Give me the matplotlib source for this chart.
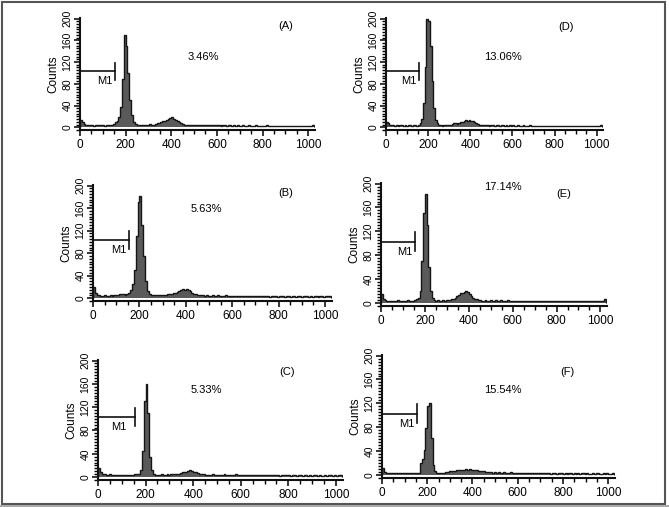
import matplotlib
matplotlib.use('Agg')
import matplotlib.pyplot as plt
from matplotlib.ticker import MultipleLocator
from matplotlib.patches import Rectangle
import numpy as np

plt.rcParams['font.family'] = ['Liberation Sans', 'DejaVu Sans']

# ---------------- data (8-channel bins, channels 0..1024) ----------------
panel_names = ['A', 'B', 'C', 'D', 'E', 'F']
percent_labels = ['3.46%', '5.63%', '5.33%', '13.06%', '17.14%', '15.54%']
x_ticks = [0, 200, 400, 600, 800, 1000]
y_ticks = [0, 40, 80, 120, 160, 200]
gate_label = 'M1'
gate_end = 155
gate_level = 103

counts_A = [14, 9, 6, 5,
            4, 5, 4, 3, 4, 4, 5, 4, 4, 3, 4, 5, 4, 4, 6, 9,
            12, 18, 38, 88, 170, 150, 100, 50, 22, 10, 6,
            5, 4, 4, 5, 4, 4, 5, 6, 5, 5, 6,
            7, 8, 9, 11, 12, 13, 15, 17, 18, 15, 13, 11, 9, 7, 6, 5,
            5, 4, 5, 4, 5, 4, 4, 5, 4, 4, 5, 4, 4, 4, 5, 4,
            4, 5, 4, 3, 4, 4, 3, 4, 4, 3, 4, 3, 4, 3, 3, 4,
            3, 3, 4, 3, 3, 3, 4, 3, 3, 2, 3, 3, 4, 3, 3, 2,
            3, 3, 2, 3, 3, 2, 3, 3, 2, 3, 2, 3, 3, 2, 2, 3, 2, 3, 3, 2, 3, 4]

counts_B = [20, 10, 6, 5,
            4, 4, 5, 4, 4, 5, 4, 5, 5, 6, 7, 8, 7, 6, 7, 10,
            14, 25, 50, 110, 170, 182, 130, 75, 30, 12, 7,
            6, 5, 5, 5, 6, 5, 5, 6, 6, 7, 7,
            8, 9, 10, 11, 12, 14, 16, 15, 16, 14, 12, 10, 8, 7, 6, 5,
            5, 5, 4, 5, 4, 4, 5, 4, 4, 5, 4, 4, 4, 5, 4, 4,
            4, 3, 4, 4, 3, 4, 4, 3, 4, 3, 4, 3, 3, 4, 3, 3,
            3, 4, 3, 3, 3, 2, 3, 3, 3, 2, 3, 3, 3, 2, 3, 3,
            2, 3, 3, 2, 3, 3, 2, 3, 4, 3, 2, 3, 2, 3, 3, 2, 3, 3, 2, 3, 3, 4]

counts_C = [15, 8, 6, 5,
            4, 4, 5, 4, 3, 4, 4, 3, 4, 4, 3, 4, 4, 4, 4, 5,
            5, 6, 12, 45, 130, 160, 110, 35, 12, 6, 4,
            4, 4, 5, 4, 4, 5, 4, 5, 5, 5, 6,
            6, 7, 8, 8, 9, 10, 12, 11, 9, 8, 7, 6, 5, 5, 4, 4,
            4, 4, 5, 4, 4, 3, 4, 4, 5, 4, 4, 3, 4, 4, 5, 4,
            4, 3, 4, 3, 4, 4, 3, 4, 3, 3, 4, 3, 4, 3, 3, 4,
            3, 3, 4, 3, 3, 2, 3, 3, 4, 3, 3, 2, 3, 3, 2, 3,
            3, 2, 3, 3, 2, 3, 2, 3, 3, 2, 3, 2, 2, 3, 2, 3, 3, 2, 3, 2, 3, 4]

counts_D = [10, 7, 5, 4,
            4, 3, 4, 3, 4, 4, 3, 4, 3, 4, 4, 3, 4, 4, 3, 5,
            8, 15, 45, 110, 200, 195, 150, 85, 35, 14, 8,
            5, 4, 3, 4, 5, 4, 4, 5, 6, 8, 7,
            6, 7, 9, 10, 12, 13, 12, 13, 12, 11, 10, 8, 6, 5, 5, 4,
            4, 4, 4, 3, 4, 4, 3, 4, 4, 3, 4, 4, 3, 4, 3, 4,
            3, 4, 3, 3, 4, 3, 3, 4, 3, 3, 3, 4, 3, 3, 3, 3,
            3, 3, 2, 3, 3, 3, 2, 3, 3, 3, 2, 3, 3, 2, 3, 3,
            2, 3, 3, 2, 3, 2, 3, 3, 2, 2, 3, 3, 2, 3, 2, 3, 3, 2, 3, 3, 2, 4]

counts_E = [15, 7, 5, 4,
            4, 4, 3, 4, 4, 5, 4, 4, 3, 4, 4, 5, 4, 4, 4, 5,
            6, 8, 20, 70, 150, 183, 130, 60, 20, 8, 5,
            4, 5, 4, 4, 5, 4, 5, 5, 5, 6, 7,
            9, 12, 14, 16, 17, 18, 20, 18, 15, 12, 9, 7, 6, 5, 5, 4,
            4, 5, 4, 4, 5, 4, 4, 5, 4, 4, 5, 4, 4, 4, 5, 4,
            4, 4, 3, 4, 4, 3, 4, 4, 3, 4, 3, 4, 3, 3, 4, 3,
            3, 3, 4, 3, 3, 3, 4, 3, 3, 3, 4, 3, 3, 4, 3, 3,
            3, 4, 3, 3, 3, 4, 3, 3, 4, 3, 3, 4, 3, 3, 3, 4, 3, 3, 4, 3, 4, 6]

counts_F = [12, 5, 4, 3,
            3, 4, 3, 3, 4, 3, 4, 3, 4, 3, 3, 4, 3, 4, 3, 4,
            4, 20, 26, 42, 78, 115, 120, 62, 16, 6, 4,
            3, 3, 4, 4, 5, 5, 6, 6, 7, 7, 8,
            8, 9, 9, 9, 10, 9, 10, 9, 9, 8, 8, 7, 7, 6, 6, 5,
            5, 5, 5, 4, 5, 4, 5, 4, 4, 5, 4, 4, 4, 5, 4, 4,
            4, 4, 3, 4, 3, 4, 3, 3, 4, 3, 3, 3, 4, 3, 3, 3,
            3, 3, 3, 2, 3, 3, 2, 3, 3, 3, 2, 3, 2, 3, 3, 2,
            3, 2, 3, 2, 3, 3, 2, 3, 2, 2, 3, 2, 3, 3, 2, 2, 3, 2, 3, 2, 2, 3]

# annotation positions in data coordinates (percent label, panel label)
percent_pos = {'A': (540, 130), 'B': (487, 159), 'C': (454, 149),
               'D': (555, 130), 'E': (557, 195), 'F': (535, 142)}
letter_pos = {'A': (903, 187), 'B': (832, 186), 'C': (794, 181),
              'D': (853, 185), 'E': (831, 183), 'F': (819, 173)}

all_counts = {'A': counts_A, 'B': counts_B, 'C': counts_C,
              'D': counts_D, 'E': counts_E, 'F': counts_F}

# ---------------- layout ----------------
W, H = 669, 507
# axes boxes in pixels: left, top, right, bottom
boxes = {'A': (80, 18, 315, 130), 'D': (386, 18, 603, 130),
         'B': (93, 185, 332, 301), 'E': (381, 183, 607, 306),
         'C': (98, 360, 343, 480), 'F': (382, 355, 615, 478)}

edges = np.arange(0, 1025, 8)

fig = plt.figure(figsize=(W / 100, H / 100), dpi=100)
fig.patch.set_facecolor('white')

for name, pct in zip(panel_names, percent_labels):
    counts = all_counts[name]
    assert len(counts) == len(edges) - 1, (name, len(counts))
    l, t, r, b = boxes[name]
    ax = fig.add_axes([l / W, 1 - b / H, (r - l) / W, (b - t) / H])
    ax.stairs(counts, edges, fill=True, color='#5a5a5a', lw=0)
    ax.stairs(counts, edges, color='#151515', lw=1.0)
    ax.set_xlim(0, 1030)
    ax.set_ylim(-5, 201)
    for s in ['top', 'right']:
        ax.spines[s].set_visible(False)
    for s in ['left', 'bottom']:
        ax.spines[s].set_linewidth(1.5)
        ax.spines[s].set_color('#111')
    ax.set_xticks(x_ticks)
    ax.set_yticks(y_ticks)
    ax.xaxis.set_minor_locator(MultipleLocator(50))
    ax.yaxis.set_minor_locator(MultipleLocator(5))
    ax.tick_params(which='major', length=4, width=1.1, color='#000', direction='out')
    ax.tick_params(which='minor', length=3, width=1.0, color='#000', direction='out')
    ax.tick_params(axis='x', labelsize=8.5, pad=2.5)
    ax.tick_params(axis='y', labelsize=7.5, pad=1.5, labelrotation=90)
    for lab in ax.get_yticklabels():
        lab.set_va('center')
    ax.set_ylabel('Counts', fontsize=8.5, labelpad=2)
    # M1 gate marker
    ax.plot([0, gate_end], [gate_level, gate_level], color='#111', lw=1.2)
    ax.plot([gate_end, gate_end], [gate_level - 16, gate_level + 16], color='#111', lw=1.2)
    ax.text(gate_end - 12 if name != 'C' else gate_end - 35, gate_level - 17, gate_label,
            fontsize=8, ha='right', va='center')
    px, py = percent_pos[name]
    ax.text(px, py, pct, fontsize=8, ha='center', va='center')
    lx, ly = letter_pos[name]
    ax.text(lx, ly, '(' + name + ')', fontsize=8, ha='center', va='center')

# outer frame
fig.add_artist(Rectangle((2 / W, 1 - 504 / H), 663 / W, 502 / H, transform=fig.transFigure,
                         fill=False, ec='#555555', lw=1.5))
fig.add_artist(Rectangle((0, 0), 1, 2 / H, transform=fig.transFigure,
                         fc='#aaaaaa', ec='none'))

fig.savefig('out.png', dpi=100)
